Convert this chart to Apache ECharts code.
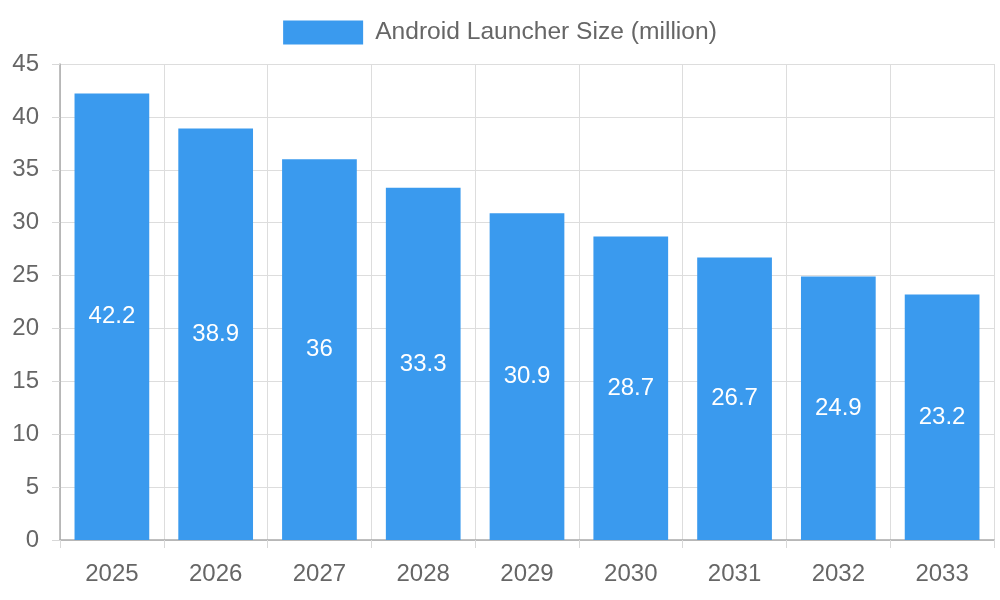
<!DOCTYPE html>
<html>
<head>
<meta charset="utf-8">
<script src="https://cdn.jsdelivr.net/npm/echarts@6/dist/echarts.min.js"></script>
<style>
  html, body { margin: 0; padding: 0; background: #fff; }
  #main { width: 1000px; height: 600px; }
</style>
</head>
<body>
<div id="main"></div>
<script>
var years = ['2025', '2026', '2027', '2028', '2029', '2030', '2031', '2032', '2033'];
var launcherSize = [42.2, 38.9, 36, 33.3, 30.9, 28.7, 26.7, 24.9, 23.2];
var seriesName = 'Android Launcher Size (million)';

var chartDom = document.getElementById('main');
var myChart = echarts.init(chartDom);
var font = '"Liberation Sans", Arial, sans-serif';

var option = {
    animation: false,
    textStyle: { fontFamily: font },
    legend: {
        top: 15,
        left: 'center',
        itemWidth: 80,
        itemHeight: 24,
        itemGap: 10,
        icon: 'rect',
        textStyle: { fontSize: 24.6, color: '#666', fontFamily: font, padding: [0, 0, 0, 7] },
        data: [seriesName]
    },
    grid: { left: 60, right: 6, top: 64, bottom: 60, containLabel: false },
    xAxis: {
        type: 'category',
        data: years,
        boundaryGap: true,
        axisLine: { lineStyle: { color: '#aaa', width: 1.5 } },
        axisTick: { show: true, length: 8, lineStyle: { color: '#d8d8d8' } },
        axisLabel: { fontSize: 24, color: '#666', margin: 22, fontFamily: font },
        splitLine: { show: true, lineStyle: { color: '#ddd' } }
    },
    yAxis: {
        type: 'value',
        min: 0,
        max: 45,
        interval: 5,
        axisLine: { show: true, lineStyle: { color: '#aaa', width: 1.5 } },
        axisTick: { show: true, length: 8, lineStyle: { color: '#d8d8d8' } },
        axisLabel: { fontSize: 24, color: '#666', margin: 21, fontFamily: font },
        splitLine: { show: true, lineStyle: { color: '#ddd' } }
    },
    series: [
        {
            name: seriesName,
            type: 'bar',
            data: launcherSize,
            barWidth: '72%',
            itemStyle: { color: '#3a9aee' },
            label: {
                show: true,
                position: 'inside',
                color: '#fff',
                fontSize: 24,
                fontFamily: font
            }
        }
    ]
};

option && myChart.setOption(option);
</script>
</body>
</html>
